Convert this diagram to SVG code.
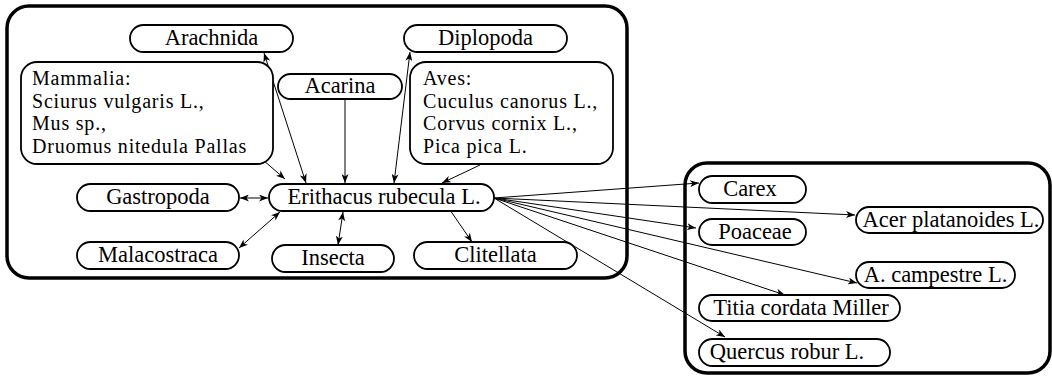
<svg xmlns="http://www.w3.org/2000/svg" width="1052" height="377" viewBox="0 0 1052 377">
<style>
.bg{fill:#fff}
.grp{fill:none;stroke:#000;stroke-width:3.5}
.nd{fill:#fff;stroke:#000;stroke-width:1.8}
text{font-family:'Liberation Serif','Times New Roman','DejaVu Serif',serif;font-size:22.5px;fill:#000}
.c{text-anchor:middle}
.m{font-size:20px;letter-spacing:0.8px}
.e{fill:none;stroke:#000;stroke-width:1}
.a1{marker-end:url(#ah)}
.a2{marker-end:url(#ah);marker-start:url(#ah)}
</style>
<defs>
<marker id="ah" markerUnits="userSpaceOnUse" viewBox="0 0 9 7" refX="9" refY="3.5" markerWidth="9" markerHeight="7" orient="auto-start-reverse">
<path d="M0,0 L9,3.5 L0,7 L2.5,3.5 z" fill="#000"/>
</marker>
</defs>
<rect class="bg" x="0" y="0" width="1052" height="377"/>
<g id="groups">
<rect class="grp" x="7" y="6" width="620" height="272" rx="22"/>
<rect class="grp" x="685" y="163" width="365" height="210" rx="22"/>
</g>
<g id="connectors">
<line class="e a2" x1="264" y1="53" x2="306" y2="183"/>
<line class="e a1" x1="263" y1="160" x2="285" y2="179"/>
<line class="e a1" x1="345" y1="99" x2="345" y2="183"/>
<line class="e a2" x1="410" y1="52" x2="394" y2="183"/>
<line class="e a1" x1="480" y1="165" x2="442" y2="183"/>
<line class="e a2" x1="240" y1="198" x2="268" y2="198"/>
<line class="e a2" x1="239" y1="248" x2="280" y2="212"/>
<line class="e a2" x1="338" y1="245" x2="343" y2="212"/>
<line class="e a1" x1="450" y1="210" x2="472" y2="242"/>
<line class="e a1" x1="494" y1="198" x2="699" y2="183"/>
<line class="e a1" x1="494" y1="198" x2="855" y2="215"/>
<line class="e a1" x1="494" y1="198" x2="696" y2="228"/>
<line class="e a1" x1="494" y1="198" x2="857" y2="283"/>
<line class="e a1" x1="494" y1="198" x2="785" y2="295"/>
<line class="e a1" x1="494" y1="198" x2="725" y2="337"/>
</g>
<g font-family="'Liberation Serif', serif">
<g id="arachnida"><rect class="nd" x="130" y="25" width="163" height="27" rx="13.5"/><text class="c" x="211.5" y="45">Arachnida</text></g>
<g id="diplopoda"><rect class="nd" x="404" y="25" width="163" height="27" rx="13.5"/><text class="c" x="485.5" y="45">Diplopoda</text></g>
<g id="mammalia"><rect class="nd" x="21" y="62" width="252" height="102" rx="16"/><text class="m" x="32" y="85">Mammalia:</text><text class="m" x="32" y="107.5">Sciurus vulgaris L.,</text><text class="m" x="32" y="130">Mus sp.,</text><text class="m" x="32" y="152.5">Druomus nitedula Pallas</text></g>
<g id="acarina"><rect class="nd" x="278" y="74" width="124" height="25" rx="12.5"/><text class="c" x="340" y="93">Acarina</text></g>
<g id="aves"><rect class="nd" x="410" y="62" width="203" height="102" rx="16"/><text class="m" x="423" y="85">Aves:</text><text class="m" x="423" y="107.5">Cuculus canorus L.,</text><text class="m" x="423" y="130">Corvus cornix L.,</text><text class="m" x="423" y="152.5">Pica pica L.</text></g>
<g id="gastropoda"><rect class="nd" x="77" y="184" width="162" height="27" rx="13.5"/><text class="c" x="158" y="204">Gastropoda</text></g>
<g id="erithacus"><rect class="nd" x="269" y="184" width="225" height="27" rx="13.5"/><text class="c" x="384" y="204">Erithacus rubecula L.</text></g>
<g id="malacostraca"><rect class="nd" x="77" y="242" width="162" height="27" rx="13.5"/><text class="c" x="158" y="262">Malacostraca</text></g>
<g id="insecta"><rect class="nd" x="272" y="245" width="122" height="27" rx="13.5"/><text class="c" x="333" y="265">Insecta</text></g>
<g id="clitellata"><rect class="nd" x="414" y="242" width="163" height="27" rx="13.5"/><text class="c" x="495.5" y="262">Clitellata</text></g>
<g id="carex"><rect class="nd" x="699" y="176" width="107" height="27" rx="13.5"/><text class="c" x="750" y="196">Carex</text></g>
<g id="acer"><rect class="nd" x="856" y="207" width="187" height="26" rx="13"/><text class="c" x="951" y="227">Acer platanoides L.</text></g>
<g id="poaceae"><rect class="nd" x="699" y="219" width="107" height="26" rx="13"/><text class="c" x="755" y="239">Poaceae</text></g>
<g id="campestre"><rect class="nd" x="856" y="262" width="159" height="26" rx="13"/><text class="c" x="935.5" y="282">A. campestre L.</text></g>
<g id="titia"><rect class="nd" x="699" y="295" width="201" height="26" rx="13"/><text class="c" x="801" y="315">Titia cordata Miller</text></g>
<g id="quercus"><rect class="nd" x="699" y="339" width="191" height="27" rx="13.5"/><text class="c" x="787" y="359">Quercus robur L.</text></g>
</g>
</svg>
